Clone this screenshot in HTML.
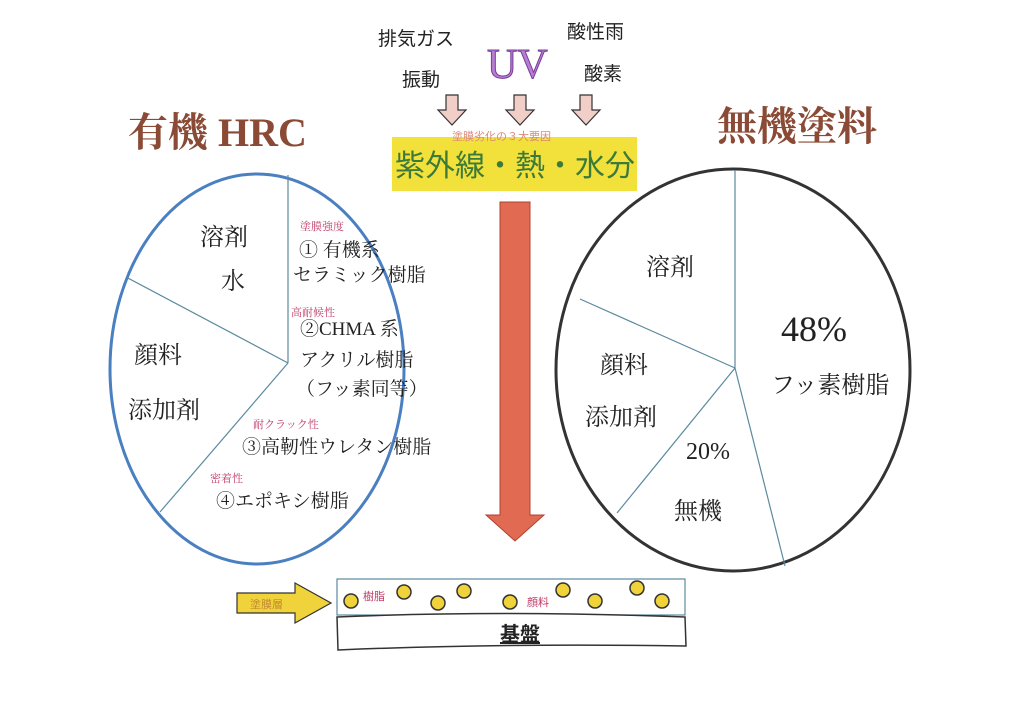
<!DOCTYPE html>
<html><head><meta charset="utf-8"><style>
html,body{margin:0;padding:0;background:#fff;}
svg{display:block;}
text{font-family:"Liberation Serif","Noto Serif CJK SC","Noto Sans CJK JP",serif;}
.s{font-family:"Liberation Sans","Noto Sans CJK JP",sans-serif;}
</style></head><body>
<svg width="1024" height="724" viewBox="0 0 1024 724" xmlns="http://www.w3.org/2000/svg">
<rect width="1024" height="724" fill="#fff"/>
<text x="128" y="146" font-size="40" fill="#8a4a35" font-weight="bold">有機 HRC</text>
<text x="717" y="140" font-size="40" fill="#8a4a35" font-weight="bold">無機塗料</text>
<text x="378" y="45" font-size="19" fill="#222" class="s">排気ガス</text>
<text x="402" y="86" font-size="19" fill="#222" class="s">振動</text>
<text x="567" y="38" font-size="19" fill="#222" class="s">酸性雨</text>
<text x="584" y="80" font-size="19" fill="#222" class="s">酸素</text>
<text x="487" y="78" font-size="42" fill="#b57ed0" stroke="#7a3c9a" stroke-width="1">UV</text>
<g fill="#f1cfc8" stroke="#333" stroke-width="1.2">
<path d="M446,95 h12 v15 h8 l-14,15 l-14,-15 h8z"/>
<path d="M514,95 h12 v15 h8 l-14,15 l-14,-15 h8z"/>
<path d="M580,95 h12 v15 h8 l-14,15 l-14,-15 h8z"/>
</g>
<rect x="392" y="137" width="245" height="54" fill="#f2e13a"/>
<text x="452" y="140" font-size="11" fill="#d9897a" class="s">塗膜劣化の３大要因</text>
<text x="395" y="176" font-size="30" fill="#3d7a3a" class="s">紫外線・熱・水分</text>
<path d="M500,202 h30 v313 h14 l-29,26 l-29,-26 h14z" fill="#e06a52" stroke="#b04030" stroke-width="1"/>
<ellipse cx="257" cy="369" rx="147" ry="195" fill="none" stroke="#4a7fc1" stroke-width="3"/>
<g stroke="#5b8aa0" stroke-width="1.2">
<line x1="288" y1="175" x2="288" y2="363"/>
<line x1="288" y1="363" x2="126" y2="277"/>
<line x1="288" y1="363" x2="160" y2="512"/>
</g>
<g font-size="24" fill="#222">
<text x="200" y="245">溶剤</text>
<text x="221" y="289">水</text>
<text x="134" y="363">顔料</text>
<text x="128" y="418">添加剤</text>
</g>
<g font-size="11" fill="#c0406a" class="s">
<text x="300" y="230">塗膜強度</text>
<text x="291" y="316">高耐候性</text>
<text x="253" y="428">耐クラック性</text>
<text x="210" y="482">密着性</text>
</g>
<g font-size="19" fill="#222">
<text x="299" y="256">① 有機系</text>
<text x="293" y="281">セラミック樹脂</text>
<text x="300" y="335">②CHMA 系</text>
<text x="300" y="366">アクリル樹脂</text>
<text x="296" y="395">（フッ素同等）</text>
<text x="242" y="453">③高靭性ウレタン樹脂</text>
<text x="216" y="507">④エポキシ樹脂</text>
</g>
<ellipse cx="733" cy="370" rx="177" ry="201" fill="none" stroke="#333" stroke-width="3"/>
<g stroke="#5b8aa0" stroke-width="1.2">
<line x1="735" y1="170" x2="735" y2="368"/>
<line x1="735" y1="368" x2="580" y2="299"/>
<line x1="735" y1="368" x2="617" y2="513"/>
<line x1="735" y1="368" x2="785" y2="566"/>
</g>
<g font-size="24" fill="#222">
<text x="646" y="275">溶剤</text>
<text x="600" y="373">顔料</text>
<text x="585" y="425">添加剤</text>
<text x="686" y="459">20%</text>
<text x="674" y="519">無機</text>
<text x="771" y="393">フッ素樹脂</text>
</g>
<text x="781" y="341" font-size="36" fill="#222">48%</text>
<path d="M237,593 h58 v-10 l36,20 l-36,20 v-10 h-58z" fill="#f0d23a" stroke="#333" stroke-width="1.2"/>
<text x="250" y="608" font-size="11" fill="#c08a30" class="s">塗膜層</text>
<rect x="337" y="579" width="348" height="36" fill="#fff" stroke="#5b8aa0" stroke-width="1.2"/>
<path d="M337,617 Q500,610 685,617 L686,646 Q500,643 338,650 Z" fill="#fff" stroke="#333" stroke-width="1.5"/>
<text x="500" y="641" font-size="20" fill="#222" font-weight="bold" text-decoration="underline" class="s">基盤</text>
<g fill="#f0d23a" stroke="#333" stroke-width="1.5">
<circle cx="351" cy="601" r="7"/><circle cx="404" cy="592" r="7"/>
<circle cx="438" cy="603" r="7"/><circle cx="464" cy="591" r="7"/>
<circle cx="510" cy="602" r="7"/><circle cx="563" cy="590" r="7"/>
<circle cx="595" cy="601" r="7"/><circle cx="637" cy="588" r="7"/>
<circle cx="662" cy="601" r="7"/>
</g>
<text x="363" y="600" font-size="11" fill="#c0406a" class="s">樹脂</text>
<text x="527" y="606" font-size="11" fill="#c0406a" class="s">顔料</text>
</svg>
</body></html>
